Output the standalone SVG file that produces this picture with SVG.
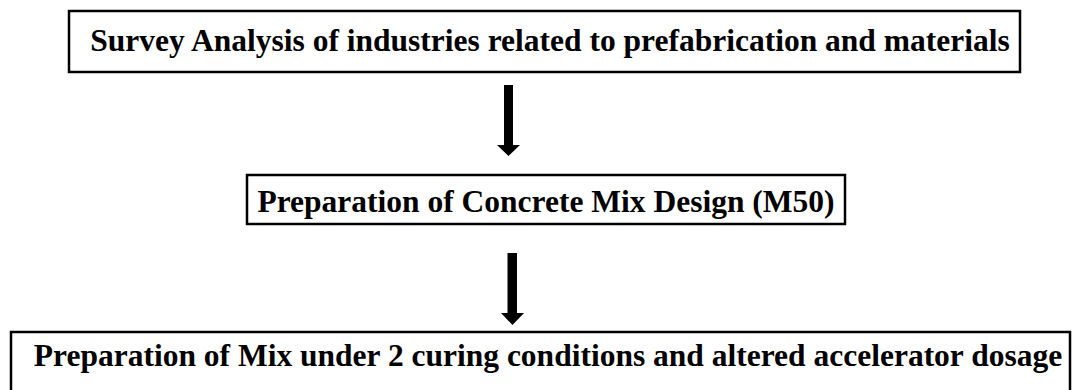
<svg xmlns="http://www.w3.org/2000/svg" width="1082" height="390" viewBox="0 0 1082 390">
  <style>
    .box { fill: #ffffff; stroke: #000000; stroke-width: 2.5; }
    .label { font-family: "Liberation Serif", "Times New Roman", serif; font-weight: bold; font-size: 31.5px; fill: #000000; text-anchor: middle; }
    .arrow { fill: #000000; stroke: none; }
  </style>
  <rect width="1082" height="390" fill="#ffffff"/>

  <g id="survey">
    <rect class="box" x="69" y="11" width="951" height="61"/>
    <text class="label" x="550" y="51">Survey Analysis of industries related to prefabrication and materials</text>
  </g>

  <g id="mix-design">
    <rect class="box" x="247" y="175" width="598" height="49"/>
    <text class="label" x="546" y="212">Preparation of Concrete Mix Design (M50)</text>
  </g>

  <g id="curing">
    <rect class="box" x="11" y="332" width="1059" height="62"/>
    <text class="label" x="548" y="366">Preparation of Mix under 2 curing conditions and altered accelerator dosage</text>
  </g>

  <g id="connectors">
    <polygon class="arrow" points="504,85 513,85 513,145 520,145 508.5,156 497,145 504,145"/>
    <polygon class="arrow" points="507.5,253 517,253 517,313 524,313 512.5,325 501,313 507.5,313"/>
  </g>
</svg>
